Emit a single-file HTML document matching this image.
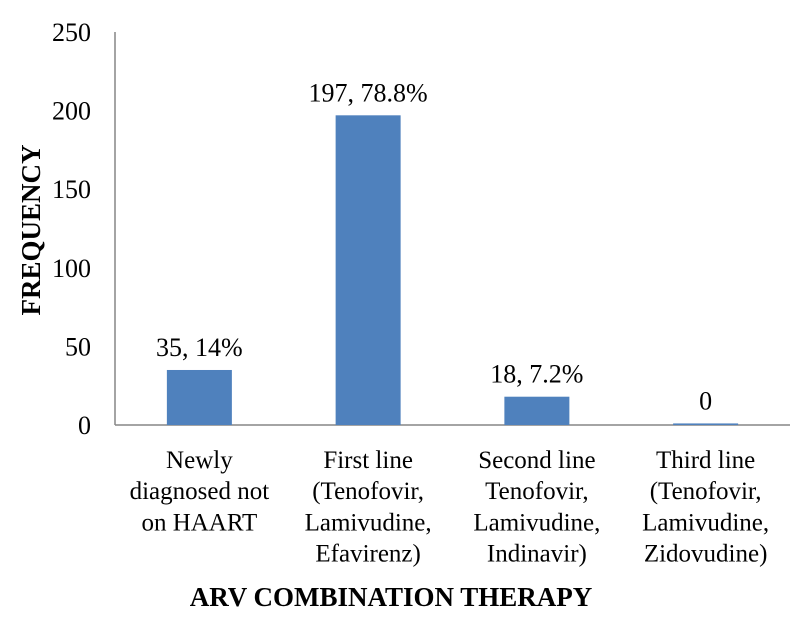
<!DOCTYPE html>
<html><head><meta charset="utf-8"><style>
body{margin:0;background:#fff}
svg text{font-family:"Liberation Serif",serif;fill:#000}
</style></head><body>
<svg id="chart" width="800" height="612" viewBox="0 0 800 612" xmlns="http://www.w3.org/2000/svg">
<text transform="translate(40,230) rotate(-90)" text-anchor="middle" font-size="27" font-weight="bold">FREQUENCY</text>
<text x="391" y="606" text-anchor="middle" font-size="27" font-weight="bold">ARV COMBINATION THERAPY</text>
</svg>
<script>
const categories=[["Newly","diagnosed not","on HAART"],["First line","(Tenofovir,","Lamivudine,","Efavirenz)"],["Second line","Tenofovir,","Lamivudine,","Indinavir)"],["Third line","(Tenofovir,","Lamivudine,","Zidovudine)"]];
const values=[35,197,18,1];
const valueLabels=["35, 14%","197, 78.8%","18, 7.2%","0"];
const yTicks=[0,50,100,150,200,250];
const NS="http://www.w3.org/2000/svg";
const svg=document.getElementById('chart');
const x0=115,x1=790,yBase=425,yTop=32,yMax=250;
const y=v=>yBase-(v/yMax)*(yBase-yTop);
const bw=(x1-x0)/categories.length;
const cx=i=>x0+bw*(i+0.5);
function mk(t,a){const e=document.createElementNS(NS,t);for(const k in a)e.setAttribute(k,a[k]);svg.appendChild(e);return e;}
let ax=mk('line',{x1:x0,y1:yTop,x2:x0,y2:yBase,stroke:'#868686','stroke-width':1.5});


let bx=mk('line',{x1:x0,y1:yBase,x2:x1,y2:yBase,stroke:'#868686','stroke-width':1.5});


yTicks.forEach(t=>{const e=mk('text',{x:x0-24,y:y(t)+9,'text-anchor':'end','font-size':26});e.textContent=t;

});
values.forEach((v,i)=>{
const r=mk('rect',{x:cx(i)-32.5,y:y(v),width:65,height:yBase-y(v),fill:'#4f81bd'});


const l=mk('text',{x:cx(i),y:y(v)-14,'text-anchor':'middle','font-size':26});l.textContent=valueLabels[i];


categories[i].forEach((s,j)=>{const c=mk('text',{x:cx(i),y:468+j*31.2,'text-anchor':'middle','font-size':25});c.textContent=s;

});
});
</script>
</body></html>
